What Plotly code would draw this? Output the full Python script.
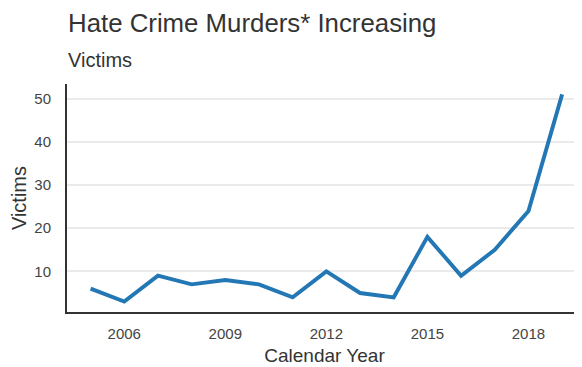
import plotly.graph_objects as go

years = [2005, 2006, 2007, 2008, 2009, 2010, 2011, 2012, 2013, 2014, 2015, 2016, 2017, 2018, 2019]
victims = [6, 3, 9, 7, 8, 7, 4, 10, 5, 4, 18, 9, 15, 24, 51]
x_tick_labels = [2006, 2009, 2012, 2015, 2018]
y_tick_labels = [10, 20, 30, 40, 50]

FONT = "Liberation Sans, Arial, sans-serif"
# the page body has an 8px margin; size the figure so it fills the window exactly
PAGE_OFF = 8
W, H = 582 - PAGE_OFF, 367 - PAGE_OFF
ML, MR, MT, MB = 67 - PAGE_OFF, 0, 84 - PAGE_OFF, 55
plot_h = H - MT - MB
plot_w = W - ML - MR

fig = go.Figure()
fig.add_trace(go.Scatter(
    x=years, y=victims, mode="lines",
    line=dict(color="#2277b4", width=3.9),
    hoverinfo="x+y", showlegend=False,
))

def top_y(py):
    # py is a page-pixel position from the top of the window
    return 1 + (MT - (py - PAGE_OFF)) / plot_h

fig.update_layout(
    width=W, height=H,
    margin=dict(l=ML, r=MR, t=MT, b=MB, autoexpand=False),
    paper_bgcolor="white", plot_bgcolor="white",
    font=dict(family=FONT, color="#444444"),
    annotations=[
        dict(text="Hate Crime Murders* Increasing", x=-1.5 / plot_w, xref="paper", xanchor="left",
             y=top_y(23), yref="paper", yanchor="middle", showarrow=False,
             font=dict(size=25.8, color="#333333")),
        dict(text="Victims", x=-1.0 / plot_w, xref="paper", xanchor="left",
             y=top_y(59.5), yref="paper", yanchor="middle", showarrow=False,
             font=dict(size=20, color="#333333")),
    ],
)

fig.update_xaxes(
    range=[2004.3, 2019.59], automargin=False,
    tickvals=x_tick_labels, ticktext=[str(v) for v in x_tick_labels],
    showgrid=False, zeroline=False,
    showline=True, linecolor="#333333", linewidth=2,
    ticks="outside", ticklen=7, tickcolor="rgba(0,0,0,0)",
    tickfont=dict(size=15, color="#444444"),
    title=dict(text="Calendar Year", font=dict(size=19, color="#333333"), standoff=8),
)
fig.update_yaxes(
    range=[0.6, 53.4], automargin=False,
    tickvals=y_tick_labels,
    showgrid=True, gridcolor="#ebebeb", gridwidth=1.6, zeroline=False,
    showline=True, linecolor="#333333", linewidth=2,
    ticks="outside", ticklen=11, tickcolor="rgba(0,0,0,0)",
    tickfont=dict(size=15, color="#444444"),
    title=dict(text="Victims", font=dict(size=20, color="#333333"), standoff=6),
)

fig.write_html("out.html")
